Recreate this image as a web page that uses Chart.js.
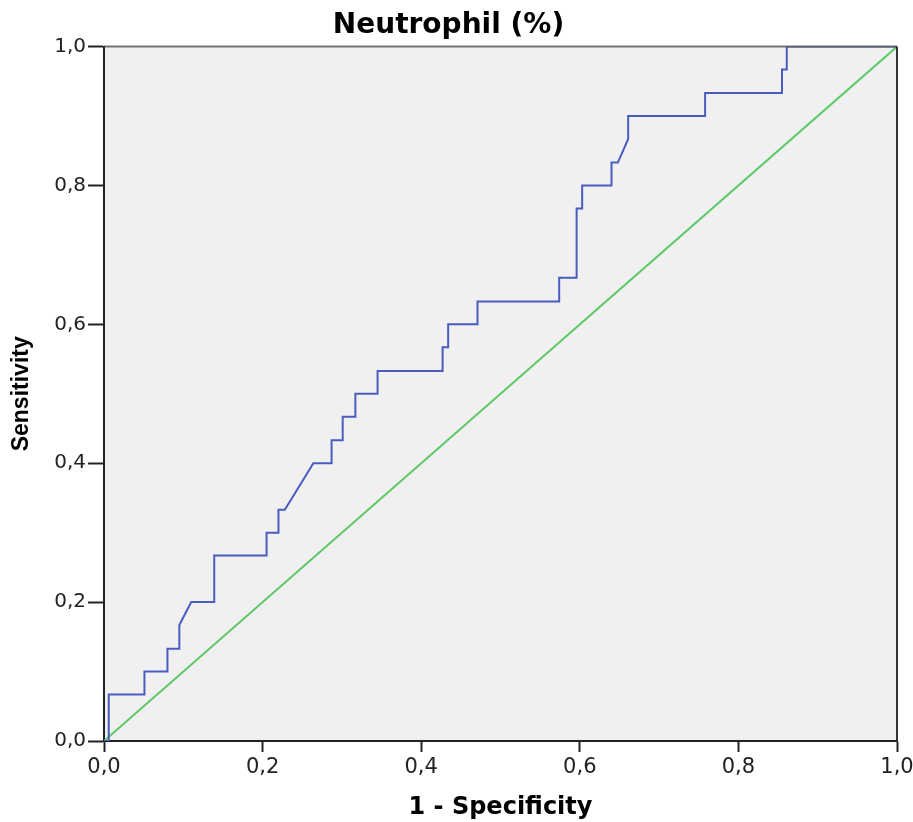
<!DOCTYPE html>
<html>
<head>
<meta charset="utf-8">
<script src="https://cdn.jsdelivr.net/npm/chart.js@4/dist/chart.umd.min.js"></script>
<style>
  html, body { margin: 0; padding: 0; background: #ffffff; }
  #wrap { width: 913px; height: 822px; }
</style>
</head>
<body>
<div id="wrap"><canvas id="c" width="913" height="822"></canvas></div>
<script>
// ROC curve: 1 - Specificity (x) and Sensitivity (y)
const rocFpr = [0, 0.006, 0.006, 0.051, 0.051, 0.080, 0.080, 0.095, 0.095, 0.110, 0.139, 0.139,
  0.205, 0.205, 0.220, 0.220, 0.228, 0.264, 0.287, 0.287, 0.301, 0.301, 0.317, 0.317, 0.345, 0.345,
  0.427, 0.427, 0.434, 0.434, 0.471, 0.471, 0.574, 0.574, 0.596, 0.596, 0.603, 0.603,
  0.640, 0.640, 0.648, 0.661, 0.661, 0.758, 0.758, 0.855, 0.855, 0.861, 0.861, 1.0];
const rocTpr = [0, 0, 0.067, 0.067, 0.100, 0.100, 0.133, 0.133, 0.167, 0.200, 0.200, 0.267,
  0.267, 0.300, 0.300, 0.333, 0.333, 0.400, 0.400, 0.433, 0.433, 0.467, 0.467, 0.500, 0.500, 0.533,
  0.533, 0.567, 0.567, 0.600, 0.600, 0.633, 0.633, 0.667, 0.667, 0.767, 0.767, 0.800,
  0.800, 0.833, 0.833, 0.867, 0.900, 0.900, 0.933, 0.933, 0.967, 0.967, 1.0, 1.0];
// Reference line
const refX = [0, 1];
const refY = [0, 1];
// Axis ticks
const tickValues = [0, 0.2, 0.4, 0.6, 0.8, 1.0];
const tickLabels = ['0,0', '0,2', '0,4', '0,6', '0,8', '1,0'];
const chartTitle = 'Neutrophil (%)';
const xTitle = '1 - Specificity';
const yTitle = 'Sensitivity';

const rocData = rocFpr.map((x, i) => ({ x: x, y: rocTpr[i] }));
const refData = refX.map((x, i) => ({ x: x, y: refY[i] }));

function labelFor(v) {
  const idx = tickValues.findIndex(t => Math.abs(t - v) < 1e-6);
  return idx >= 0 ? tickLabels[idx] : '';
}

const framePlugin = {
  id: 'frame',
  beforeDraw(chart) {
    const { ctx, chartArea: a } = chart;
    ctx.save();
    ctx.fillStyle = '#f0f0f0';
    ctx.fillRect(a.left, a.top, a.right - a.left, a.bottom - a.top);
    ctx.restore();
  },
  afterDraw(chart) {
    const { ctx, chartArea: a } = chart;
    ctx.save();
    ctx.lineWidth = 2;
    ctx.strokeStyle = 'rgba(70,70,70,0.75)';
    ctx.beginPath();
    ctx.moveTo(a.left, a.top);
    ctx.lineTo(a.right, a.top);
    ctx.stroke();
    ctx.strokeStyle = '#333333';
    ctx.beginPath();
    ctx.moveTo(a.right, a.top);
    ctx.lineTo(a.right, a.bottom);
    ctx.stroke();
    ctx.restore();
  }
};

new Chart(document.getElementById('c'), {
  type: 'scatter',
  data: {
    datasets: [
      {
        label: 'ROC',
        data: rocData,
        showLine: true,
        borderColor: '#4a5cc0',
        borderWidth: 2,
        pointRadius: 0,
        tension: 0,
        order: 1
      },
      {
        label: 'Reference',
        data: refData,
        showLine: true,
        borderColor: '#5cc866',
        borderWidth: 2,
        pointRadius: 0,
        tension: 0,
        order: 2
      }
    ]
  },
  options: {
    responsive: false,
    animation: false,
    devicePixelRatio: 1,
    layout: { padding: { left: 0, right: 16, top: 0, bottom: 0 } },
    plugins: {
      legend: { display: false },
      tooltip: { enabled: false },
      title: {
        display: true,
        text: chartTitle,
        color: '#000000',
        font: { family: 'DejaVu Sans', size: 28, weight: 'bold' },
        padding: { top: 9, bottom: 4 }
      }
    },
    scales: {
      x: {
        type: 'linear',
        min: 0, max: 1,
        afterBuildTicks(scale) { scale.ticks = tickValues.map(v => ({ value: v })); },
        afterFit(scale) { scale.height = 81; scale.paddingRight = 16; scale.paddingLeft = 0; },
        ticks: {
          callback: v => labelFor(v),
          color: '#222222',
          font: { family: 'DejaVu Sans', size: 21 },
          padding: 3,
          maxRotation: 0
        },
        grid: { drawOnChartArea: false, drawTicks: true, tickLength: 11, tickColor: '#222222', tickWidth: 2 },
        border: { display: true, color: '#222222', width: 2 },
        title: {
          display: true,
          text: xTitle,
          color: '#000000',
          font: { family: 'DejaVu Sans', size: 24, weight: 'bold' },
          padding: { top: 0, bottom: 0 }
        }
      },
      y: {
        type: 'linear',
        min: 0, max: 1,
        afterBuildTicks(scale) { scale.ticks = tickValues.map(v => ({ value: v })); },
        afterFit(scale) { scale.width = 104; },
        ticks: {
          callback: v => labelFor(v),
          color: '#222222',
          font: { family: 'DejaVu Sans', size: 20 },
          padding: 2
        },
        grid: { drawOnChartArea: false, drawTicks: true, tickLength: 16, tickColor: '#222222', tickWidth: 2 },
        border: { display: true, color: '#222222', width: 2 },
        title: {
          display: true,
          text: yTitle,
          color: '#000000',
          font: { family: 'Liberation Sans', size: 23, weight: 'bold' },
          padding: { top: 8, bottom: 0 }
        }
      }
    }
  },
  plugins: [framePlugin]
});
</script>
</body>
</html>
